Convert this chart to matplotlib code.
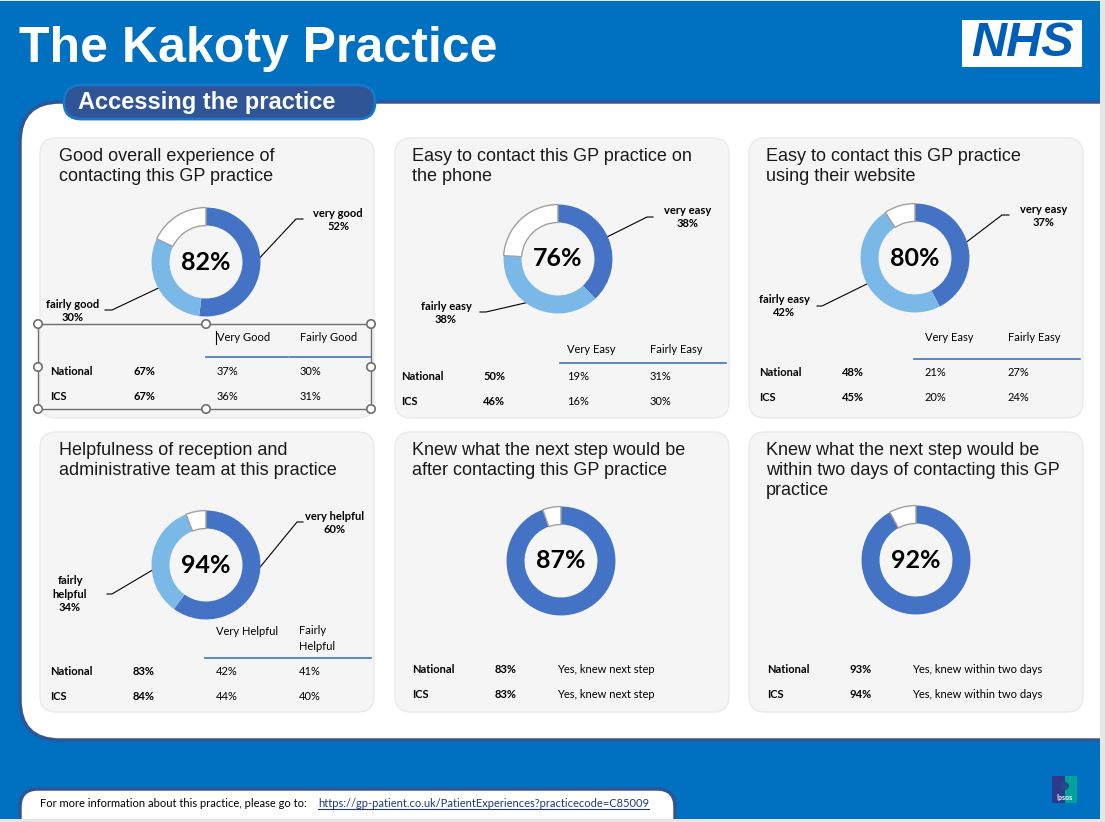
import matplotlib
matplotlib.use("Agg")
import matplotlib.pyplot as plt
from matplotlib.patches import FancyBboxPatch, Rectangle, Circle

# ---- data ----
titles = [
    "Good overall experience of\ncontacting this GP practice",
    "Easy to contact this GP practice on\nthe phone",
    "Easy to contact this GP practice\nusing their website",
    "Helpfulness of reception and\nadministrative team at this practice",
    "Knew what the next step would be\nafter contacting this GP practice",
    "Knew what the next step would be\nwithin two days of contacting this GP\npractice",
]
center_pct = [82, 76, 80, 94, 87, 92]
very_pct = [52, 38, 37, 60, 87, 92]
fairly_pct = [30, 38, 42, 34, 0, 0]
rest_pct = [18, 24, 8, 6, 5, 8]
very_names = ["very good", "very easy", "very easy", "very helpful"]
fairly_names = ["fairly good", "fairly easy", "fairly easy", "fairly\nhelpful"]

col_heads = [("Very Good", "Fairly Good"), ("Very Easy", "Fairly Easy"),
             ("Very Easy", "Fairly Easy"), ("Very Helpful", "Fairly\nHelpful")]
national_tot = [67, 50, 48, 83, 83, 93]
ics_tot = [67, 46, 45, 84, 83, 94]
national_very = [37, 19, 21, 42]
national_fairly = [30, 31, 27, 41]
ics_very = [36, 16, 20, 44]
ics_fairly = [31, 30, 24, 40]
yes_text = ["Yes, knew next step", "Yes, knew within two days"]

# ---- layout (pixels) ----
W, H = 1105, 822
panel_x = [40, 395, 749, 40, 395, 749]
panel_y = [138, 138, 138, 432, 432, 432]
title_dx = [19, 17, 17, 19, 17, 17]
donut_c = [(206, 262), (558, 259), (915, 258), (206, 565), (561, 561), (916, 560)]
R = 55
row_y = [233, 238, 234, 239, 237, 237]
head_y = [199, 211, 199, 199]
line_y = [219, 225, 221, 226]
col_x = [(10, 93, 177, 260), (6, 88, 172, 255), (10, 93, 176, 259),
         (10, 93, 176, 259), (17, 100, 162), (18, 101, 163)]
very_lab = [(338, 220), (688, 217), (1044, 216), (335, 523)]
fairly_lab = [(73, 311), (446, 313), (784, 306), (70, 594)]
very_lead = [[(254, 264), (296, 219), (303, 219)], [(601, 240), (647, 217), (653, 217)],
             [(960, 247), (1002, 215), (1009, 215)], [(252, 577), (297, 522), (303, 522)]]
fairly_lead = [[(105, 310), (112, 310), (167, 284)], [(480, 312), (486, 312), (538, 300)],
               [(817, 306), (822, 306), (875, 280)], [(107, 594), (112, 594), (161, 565)]]

nhs_blue = "#0070C0"
navy = "#2F5597"
dark = "#4472C4"
light = "#7AB8E8"
sans = "Liberation Sans"
cal = "Lato"

fig = plt.figure(figsize=(W / 100, H / 100), dpi=100)
ax = fig.add_axes([0, 0, 1, 1])
ax.set_xlim(0, W)
ax.set_ylim(H, 0)
ax.axis("off")

# background
ax.add_patch(Rectangle((0, 0), W, H, fc="#E6E6E6", ec="none"))
ax.add_patch(Rectangle((0, 1.5), 1100, 817.5, fc=nhs_blue, ec="none"))

# white content area
ax.add_patch(FancyBboxPatch((20, 102), 1200, 638, boxstyle="round,pad=0,rounding_size=40",
                            fc="white", ec=navy, lw=2.5))
ax.add_patch(Rectangle((1100, 0), 5, H, fc="#E6E6E6", ec="none", zorder=5))

ax.text(19, 49, "The Kakoty Practice", color="white", fontsize=36, fontweight="bold",
        family=sans, va="center", ha="left")

# section pill
ax.add_patch(FancyBboxPatch((64, 85), 311, 34, boxstyle="round,pad=0,rounding_size=17",
                            fc=navy, ec="#1478CC", lw=2))
ax.text(78, 102, "Accessing the practice", color="white", fontsize=17, fontweight="bold",
        family=sans, va="center", ha="left")

# NHS logo
ax.add_patch(Rectangle((962, 20), 120, 47, fc="white", ec="none"))
ax.text(1022, 44, "NHS", color="#005EB8", fontsize=35, fontweight="bold", style="italic",
        family=sans, ha="center", va="center")

# panels
for i in range(6):
    px, py = panel_x[i], panel_y[i]
    ax.add_patch(FancyBboxPatch((px, py), 334, 280, boxstyle="round,pad=0,rounding_size=16",
                                fc="#F5F5F5", ec="#EAEAEA", lw=1))
    ax.text(px + title_dx[i], py + 10, titles[i], fontsize=13, family=sans, color="#1A1A1A",
            ha="left", va="top", linespacing=1.22)

    cx, cy = donut_c[i]
    dax = fig.add_axes([(cx - R) / W, (H - cy - R) / H, 2 * R / W, 2 * R / H])
    vals = [very_pct[i], fairly_pct[i], rest_pct[i]]
    cols = [dark, light, "white"]
    keep = [k for k in range(3) if vals[k] > 0]
    wedges, _ = dax.pie([vals[k] for k in keep], colors=[cols[k] for k in keep],
                        startangle=90, counterclock=False,
                        wedgeprops=dict(width=0.33, edgecolor="none"))
    wedges[-1].set_edgecolor("#A0A0A0")
    wedges[-1].set_linewidth(1)
    dax.set_xlim(-1.01, 1.01)
    dax.set_ylim(-1.01, 1.01)
    dax.text(0, 0, f"{center_pct[i]}%", fontsize=18, fontweight="bold", family=cal,
             ha="center", va="center")

    ry = py + row_y[i]
    cx_ = col_x[i]
    ax.text(px + cx_[0], ry, "National", fontsize=8, fontweight="bold", family=cal, va="center")
    ax.text(px + cx_[0], ry + 25, "ICS", fontsize=8, fontweight="bold", family=cal, va="center")
    ax.text(px + cx_[1], ry, f"{national_tot[i]}%", fontsize=8, fontweight="bold", family=cal, va="center")
    ax.text(px + cx_[1], ry + 25, f"{ics_tot[i]}%", fontsize=8, fontweight="bold", family=cal, va="center")

    if i < 4:
        h1, h2 = col_heads[i]
        hy = py + head_y[i]
        ax.text(px + cx_[2], hy, h1, fontsize=8, family=cal, va="center")
        h2_y = hy + 7.5 if "\n" in h2 else hy
        ax.text(px + cx_[3], h2_y, h2, fontsize=8, family=cal, va="center", linespacing=1.5)
        ly = py + line_y[i]
        if i == 0:
            ax.plot([px + 166, px + 248], [ly, ly], color=dark, lw=1.2)
            ax.plot([px + 250, px + 331], [ly, ly], color=dark, lw=1.2)
        else:
            ax.plot([px + 165, px + 331], [ly, ly], color=dark, lw=1.2)
        ax.text(px + cx_[2], ry, f"{national_very[i]}%", fontsize=8, family=cal, va="center")
        ax.text(px + cx_[2], ry + 25, f"{ics_very[i]}%", fontsize=8, family=cal, va="center")
        ax.text(px + cx_[3], ry, f"{national_fairly[i]}%", fontsize=8, family=cal, va="center")
        ax.text(px + cx_[3], ry + 25, f"{ics_fairly[i]}%", fontsize=8, family=cal, va="center")

        vx, vy = very_lab[i]
        ax.text(vx, vy, f"{very_names[i]}\n{very_pct[i]}%", fontsize=8, fontweight="bold",
                family=cal, ha="center", va="center", linespacing=1.3)
        fx, fy = fairly_lab[i]
        ax.text(fx, fy, f"{fairly_names[i]}\n{fairly_pct[i]}%", fontsize=8, fontweight="bold",
                family=cal, ha="center", va="center", linespacing=1.3)
        for pts in (very_lead[i], fairly_lead[i]):
            ax.plot([p[0] for p in pts], [p[1] for p in pts], color="black", lw=0.8, zorder=6)
    else:
        txt = yes_text[i - 4]
        ax.text(px + cx_[2], ry, txt, fontsize=8, family=cal, va="center")
        ax.text(px + cx_[2], ry + 25, txt, fontsize=8, family=cal, va="center")

# selection frame left on the first table
ax.add_patch(Rectangle((38, 324), 333, 85, fc="none", ec="#6E6E6E", lw=1, zorder=7))
for hx in (38, 206, 371):
    for hy in (324, 367, 409):
        if hx == 206 and hy == 367:
            continue
        ax.add_patch(Circle((hx, hy), 4.2, fc="white", ec="#6E6E6E", lw=1.2, zorder=8))
ax.plot([216, 216], [331, 344], color="black", lw=0.8, zorder=8)

# footer tab
ax.add_patch(FancyBboxPatch((20, 789), 655, 60, boxstyle="round,pad=0,rounding_size=18",
                            fc="white", ec=navy, lw=2.5))
ax.add_patch(Rectangle((0, 819), W, 4, fc="#E6E6E6", ec="none", zorder=5))
ax.text(40, 803, "For more information about this practice, please go to:", fontsize=8,
        family=cal, va="center", color="black")
url = ax.text(318, 803, "https://gp-patient.co.uk/PatientExperiences?practicecode=C85009",
              fontsize=8, family=cal, va="center", color="#1F3A78")
fig.canvas.draw()
bb = url.get_window_extent().transformed(ax.transData.inverted())
ax.plot([bb.x0, bb.x1], [809, 809], color="#1F3A78", lw=0.8)

# Ipsos logo
ax.add_patch(Rectangle((1052, 776), 13, 27, fc="#2B3A8C", ec="none"))
ax.add_patch(Rectangle((1065, 776), 12, 27, fc="#00A39B", ec="none"))
ax.add_patch(Circle((1065, 786), 4, fc="#1E4E86", ec="none"))
ax.text(1064.5, 797, "Ipsos", color="white", fontsize=5, fontweight="bold", family=cal,
        ha="center", va="center")

fig.savefig("out.png", dpi=100)
